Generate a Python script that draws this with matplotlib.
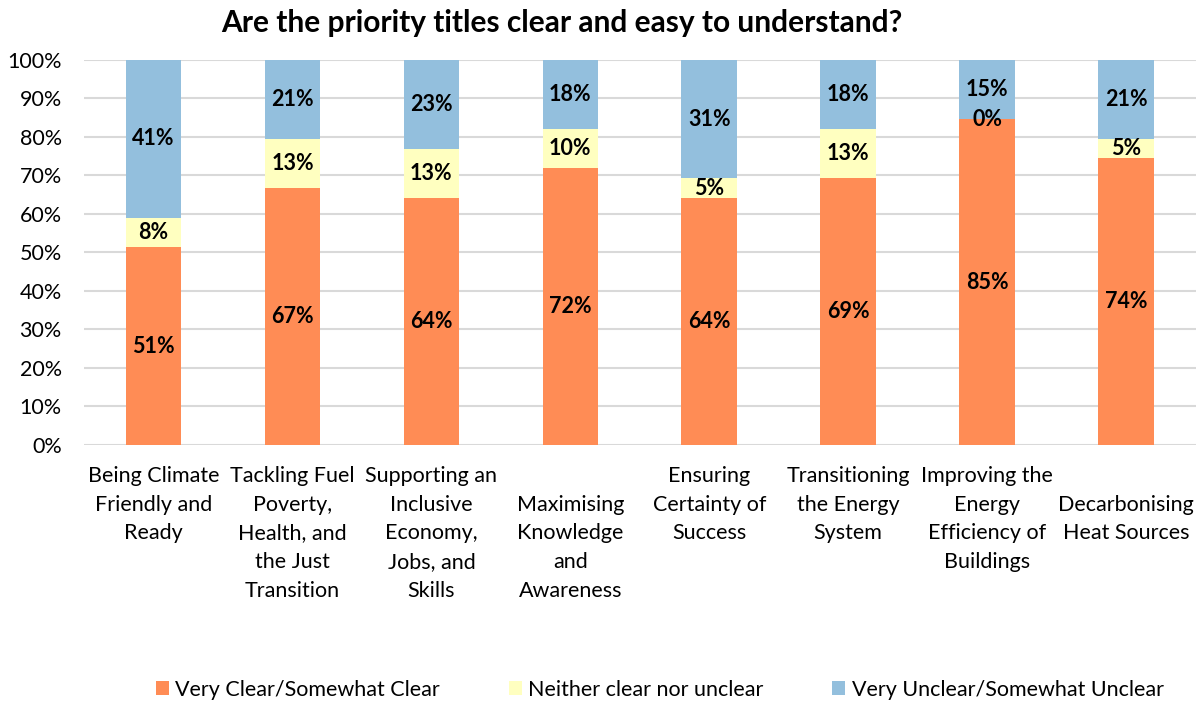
import matplotlib
matplotlib.use('Agg')
import matplotlib.pyplot as plt
import numpy as np

plt.rcParams['font.family'] = ['Lato', 'DejaVu Sans']

categories = ['Being Climate\nFriendly and\nReady',
              'Tackling Fuel\nPoverty,\nHealth, and\nthe Just\nTransition',
              'Supporting an\nInclusive\nEconomy,\nJobs, and\nSkills',
              '\nMaximising\nKnowledge\nand\nAwareness',
              'Ensuring\nCertainty of\nSuccess',
              'Transitioning\nthe Energy\nSystem',
              'Improving the\nEnergy\nEfficiency of\nBuildings',
              '\nDecarbonising\nHeat Sources']
clear = [51.3, 66.7, 64.1, 71.8, 64.1, 69.2, 84.6, 74.4]
neither = [7.7, 12.8, 12.8, 10.3, 5.1, 12.8, 0.0, 5.1]
unclear = [41.0, 20.5, 23.1, 17.9, 30.8, 17.9, 15.4, 20.5]
labels_clear = ['51%', '67%', '64%', '72%', '64%', '69%', '85%', '74%']
labels_neither = ['8%', '13%', '13%', '10%', '5%', '13%', '0%', '5%']
labels_unclear = ['41%', '21%', '23%', '18%', '31%', '18%', '15%', '21%']
series_names = ['Very Clear/Somewhat Clear', 'Neither clear nor unclear',
                'Very Unclear/Somewhat Unclear']
colors = ['#FF8C55', '#FFFFC0', '#93BFDD']

fig = plt.figure(figsize=(12.04, 7.04), dpi=100)
ax = fig.add_axes([0.0698, 0.368, 0.9232, 0.547])

x = np.arange(len(categories))
bottom = np.zeros(len(categories))
for vals, labs, name, c in zip([clear, neither, unclear],
                               [labels_clear, labels_neither, labels_unclear],
                               series_names, colors):
    vals = np.array(vals)
    ax.bar(x, vals, 0.4, bottom=bottom, color=c, label=name, zorder=2)
    for xi, b, v, lab in zip(x, bottom, vals, labs):
        ax.text(xi, b + v / 2, lab, ha='center', va='center',
                fontsize=15.5, fontweight='bold', color='black', zorder=3)
    bottom += vals

ax.set_xlim(-0.5, len(categories) - 0.5)
ax.set_ylim(0, 100)
ax.set_yticks(np.arange(0, 101, 10))
ax.set_yticklabels(['{}%'.format(t) for t in range(0, 101, 10)], fontsize=15.5)
ax.set_xticks(x)
ax.set_xticklabels(categories, fontsize=15.5, linespacing=1.55, va='top')
ax.tick_params(axis='both', length=0)
ax.tick_params(axis='x', pad=15)
ax.tick_params(axis='y', pad=16)
ax.grid(axis='y', color='#D9D9D9', linewidth=1.5, zorder=0)
for s in ax.spines.values():
    s.set_visible(False)

fig.text(0.467, 0.968, 'Are the priority titles clear and easy to understand?',
         ha='center', va='center', fontsize=21.5, fontweight='bold')

fig.legend(loc='center', bbox_to_anchor=(0.548, 0.02), ncol=3, frameon=False,
           fontsize=15.5, handlelength=0.6, handleheight=0.6, handletextpad=0.3,
           columnspacing=3.2)

fig.savefig('out.png', dpi=100)
